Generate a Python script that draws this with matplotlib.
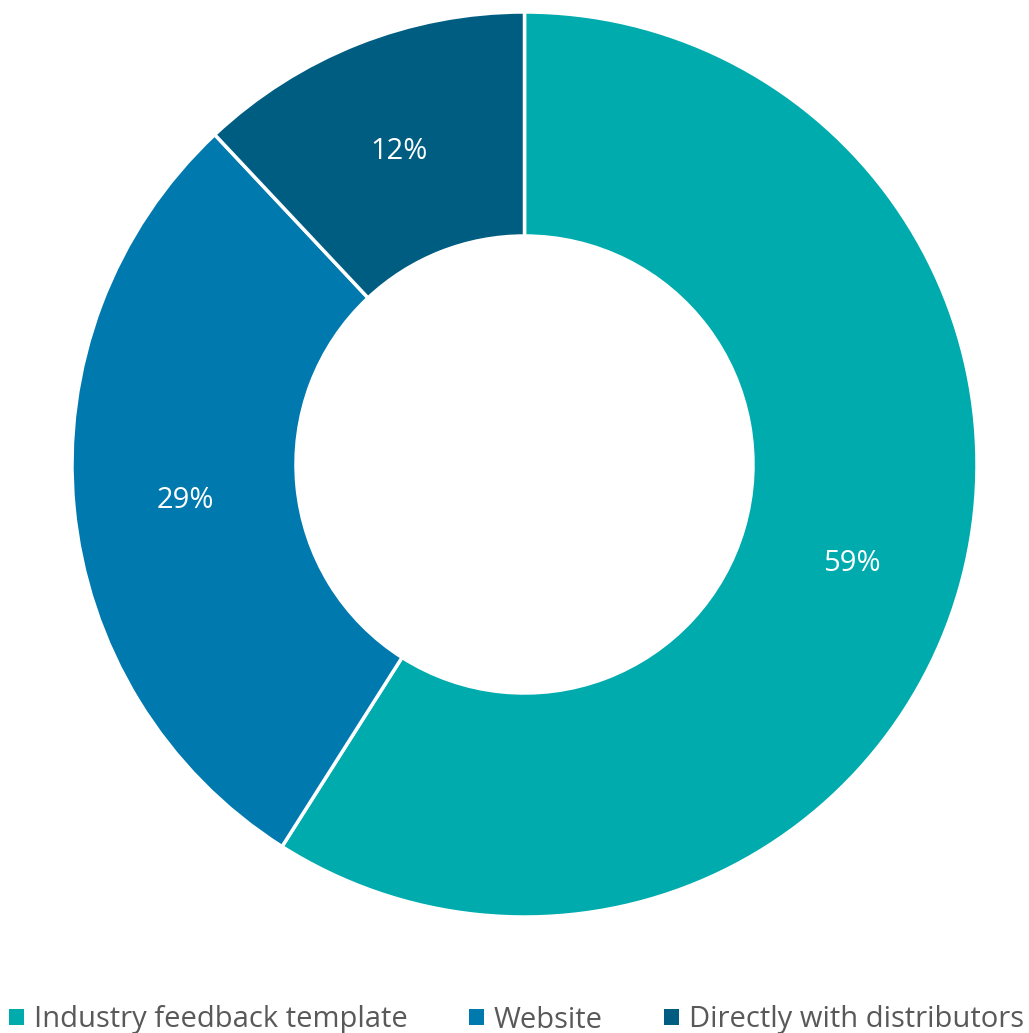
import numpy as np
import matplotlib.pyplot as plt
from matplotlib.patches import Patch

labels = ['Industry feedback template', 'Website', 'Directly with distributors']
values = [59, 29, 12]
colors = ['#00ABAD', '#0079AF', '#005D82']

plt.rcParams['font.family'] = ['Open Sans', 'DejaVu Sans']

fig = plt.figure(figsize=(10.29, 10.33), dpi=100)
ax = fig.add_axes([72 / 1029, 116 / 1033, 905 / 1029, 905 / 1033])

ring = 0.495
wedges, texts = ax.pie(values, colors=colors, startangle=90, counterclock=False,
                       radius=1.0,
                       wedgeprops=dict(width=ring, edgecolor='white', linewidth=2.5))

# percentage labels in the middle of the ring
for w, v in zip(wedges, values):
    ang = np.deg2rad((w.theta1 + w.theta2) / 2)
    r = 1.0 - ring / 2
    ax.text(r * np.cos(ang), r * np.sin(ang) - 0.008, f'{v}%', ha='center', va='center',
            color='white', fontsize=21)

ax.set_xlim(-1, 1)
ax.set_ylim(-1, 1)
ax.set_aspect('equal')
ax.axis('off')

handles = [Patch(facecolor=c, edgecolor='none') for c in colors]
leg = fig.legend(handles, labels, loc='center', bbox_to_anchor=(0.5 + 2 / 1029, 13 / 1033),
                 ncol=3, frameon=False, fontsize=21, handlelength=0.5, handleheight=0.5,
                 handletextpad=0.35, columnspacing=2.1, borderpad=0, borderaxespad=0)
for t in leg.get_texts():
    t.set_color('#595959')

fig.savefig('out.png', dpi=100)
